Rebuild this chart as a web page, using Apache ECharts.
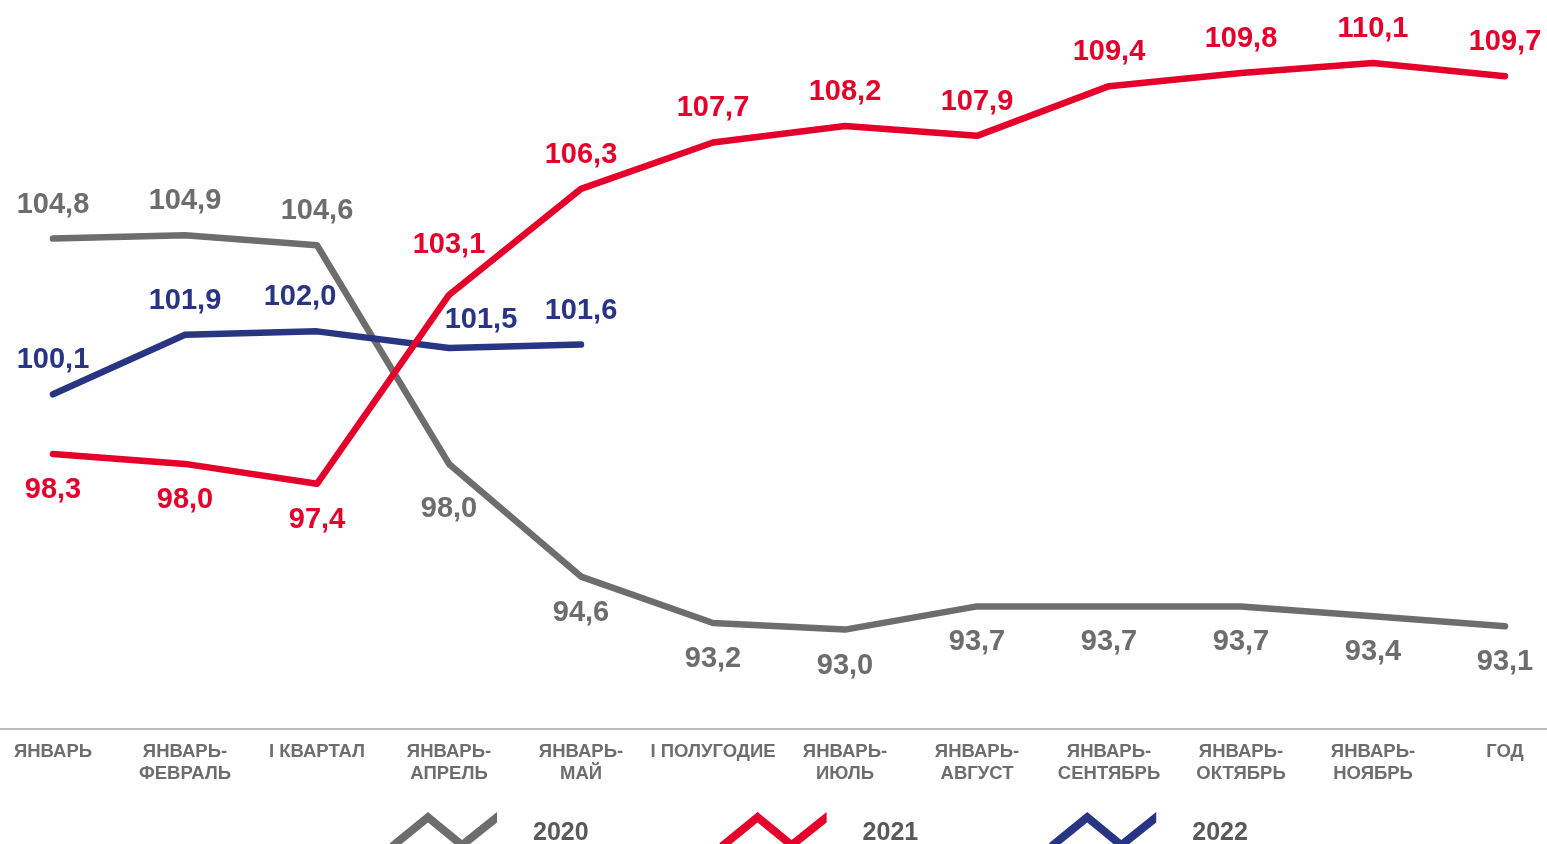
<!DOCTYPE html>
<html>
<head>
<meta charset="utf-8">
<script src="https://cdn.jsdelivr.net/npm/echarts@6/dist/echarts.min.js"></script>
<style>
html,body{margin:0;padding:0;background:#fff;}
#chart{width:1547px;height:844px;}
</style>
</head>
<body>
<div id="chart"></div>
<script>
var categories = ['ЯНВАРЬ','ЯНВАРЬ-\nФЕВРАЛЬ','I КВАРТАЛ','ЯНВАРЬ-\nАПРЕЛЬ','ЯНВАРЬ-\nМАЙ','I ПОЛУГОДИЕ','ЯНВАРЬ-\nИЮЛЬ','ЯНВАРЬ-\nАВГУСТ','ЯНВАРЬ-\nСЕНТЯБРЬ','ЯНВАРЬ-\nОКТЯБРЬ','ЯНВАРЬ-\nНОЯБРЬ','ГОД'];
var seriesNames = ['2020','2021','2022'];
var values2020 = [104.8,104.9,104.6,98.0,94.6,93.2,93.0,93.7,93.7,93.7,93.4,93.1];
var values2021 = [98.3,98.0,97.4,103.1,106.3,107.7,108.2,107.9,109.4,109.8,110.1,109.7];
var values2022 = [100.1,101.9,102.0,101.5,101.6];

var colors = ['#6d6d6d','#e4002b','#283583'];
var FONT = '"Liberation Sans", Arial, sans-serif';

// label placement per point (style only)
var pos2020 = ['top','top','top','bottom','bottom','bottom','bottom','bottom','bottom','bottom','bottom','bottom'];
var off2020 = {3:[0,9]};
var pos2021 = ['bottom','bottom','bottom','top','top','top','top','top','top','top','top','top'];
var off2021 = {3:[0,-16]};
var pos2022 = ['top','top','top','top','top'];
var off2022 = {2:[-17,0],3:[32,6]};

function fmt(v){ return v.toFixed(1).replace('.', ','); }

function buildData(vals, pos, offs){
  return vals.map(function(v,i){
    var lab = {position: pos[i], distance: pos[i]==='top'?19:21};
    if (offs[i]) lab.offset = offs[i];
    return {value: v, label: lab};
  });
}

function mkSeries(name, vals, pos, offs, color, z){
  return {
    name: name,
    type: 'line',
    xAxisIndex: 0,
    yAxisIndex: 0,
    z: z,
    data: buildData(vals, pos, offs),
    symbol: 'circle',
    symbolSize: 1,
    itemStyle: {color: color},
    lineStyle: {color: color, width: 6.5, cap: 'round', join: 'round'},
    label: {
      show: true,
      color: color,
      fontFamily: FONT,
      fontWeight: 'bold',
      fontSize: 29,
      formatter: function(p){ return fmt(p.value); }
    },
    emphasis: {disabled: true},
    animation: false
  };
}

var iconPath = 'path://M0,31.8 L38,0.8 L72,28.8 L107,0.8 L107,11.2 L72,39.2 L38,11.2 L0,42.2 Z';

var chart = echarts.init(document.getElementById('chart'));
chart.setOption({
  backgroundColor: '#ffffff',
  animation: false,
  grid: [
    {left: 53, right: 42, top: -3, bottom: 115, containLabel: false},
    {left: 0, right: 0, top: -3, bottom: 115, containLabel: false}
  ],
  xAxis: [{
    type: 'category',
    gridIndex: 0,
    data: categories,
    boundaryGap: false,
    axisLine: {show: false},
    axisTick: {show: false},
    splitLine: {show: false},
    axisLabel: {
      interval: 0,
      margin: 12,
      color: '#6d6d6d',
      fontFamily: FONT,
      fontWeight: 'bold',
      fontSize: 18.5,
      lineHeight: 22
    }
  }, {
    type: 'value',
    gridIndex: 1,
    min: 0,
    max: 1,
    position: 'bottom',
    axisLine: {show: true, onZero: false, lineStyle: {color: '#a6a6a6', width: 1.5}},
    axisTick: {show: false},
    axisLabel: {show: false},
    splitLine: {show: false}
  }],
  yAxis: [{
    type: 'value',
    gridIndex: 0,
    min: 90,
    max: 112,
    show: false,
    splitLine: {show: false}
  }, {
    type: 'value',
    gridIndex: 1,
    min: 0,
    max: 1,
    show: false,
    splitLine: {show: false}
  }],
  legend: {
    data: seriesNames.map(function(n,i){ return {name: n, icon: iconPath, itemStyle: {color: colors[i]}}; }),
    left: 390,
    top: 812,
    padding: 0,
    itemWidth: 107,
    itemHeight: 42,
    itemGap: 131,
    selectedMode: false,
    textStyle: {
      color: '#595959',
      fontFamily: FONT,
      fontWeight: 'bold',
      fontSize: 25,
      padding: [0,0,8,31]
    }
  },
  series: [
    mkSeries(seriesNames[0], values2020, pos2020, off2020, colors[0], 2),
    mkSeries(seriesNames[1], values2021, pos2021, off2021, colors[1], 4),
    mkSeries(seriesNames[2], values2022, pos2022, off2022, colors[2], 3)
  ]
});
</script>
</body>
</html>
